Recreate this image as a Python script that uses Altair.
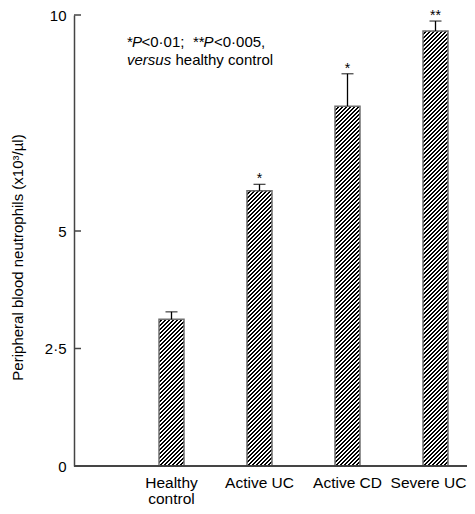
import altair as alt
import pandas as pd
import numpy as np

# ---- data ----
categories = ["Healthy control", "Active UC", "Active CD", "Severe UC"]
means = [3.12, 5.93, 7.89, 9.63]
upper = [3.28, 6.08, 8.64, 9.86]
stars = ["", "*", "*", "**"]
y_ticks = [0, 2.5, 5, 10]

df = pd.DataFrame({"group": categories, "mean": means, "upper": upper, "star": stars})
tick_df = pd.DataFrame({"v": y_ticks})

# ---- layout / styles ----
W, H = 393, 451
Y_DOMAIN = [0, 5, 10]
Y_RANGE = [H, 216, 0]
FONT = "Liberation Sans"
AXIS_COLOR = "#444444"
BAR_W = 25.0
X_RANGE = [53.5, 405.5]
STEP = (X_RANGE[1] - X_RANGE[0]) / len(categories)

yscale = alt.Scale(domain=Y_DOMAIN, range=Y_RANGE, nice=False, zero=False)
xscale = alt.Scale(domain=categories, range=X_RANGE, paddingInner=0, paddingOuter=0)

yaxis = alt.Axis(values=y_ticks, ticks=False, grid=False,
                 labelExpr="replace(toString(datum.value), '.', '·')",
                 labelFontSize=15, labelColor="black", labelPadding=8,
                 domainColor=AXIS_COLOR, domainWidth=1.5,
                 titleFontSize=15, titleFontWeight="normal", titleColor="black",
                 titleAngle=-90, titleX=-57, titleY=242, titleAlign="center",
                 titleBaseline="middle")
xaxis = alt.Axis(ticks=False, domain=False, grid=False, labelAngle=0,
                 labelFontSize=15.5, labelColor="black", labelPadding=9,
                 labelLineHeight=16, labelBaseline="top", labelOverlap=False,
                 labelOffset={"condition": {"test": "datum.value == 'Severe UC'", "value": -7}, "value": 0},
                 labelExpr="datum.value == 'Healthy control' ? ['Healthy', 'control'] : datum.label")

YTITLE = "Peripheral blood neutrophils (x10³/µl)"
X = alt.X("group:N", scale=xscale, sort=categories, axis=xaxis, title=None)


def Y(field):
    return alt.Y(field, scale=yscale, axis=yaxis, title=YTITLE)


def ypix(v):
    return float(np.interp(v, Y_DOMAIN, Y_RANGE))


def yval(p):
    return float(np.interp(p, Y_RANGE[::-1], Y_DOMAIN[::-1]))


def hatch(h_px, x_left, y_top, w_px=BAR_W, period=4.0, frac=0.5):
    """Diagonal '/' hatching as a hard-stop linear gradient (stripes x+y=const)."""
    L = w_px + h_px
    k = L / (w_px ** 2 + h_px ** 2)
    phi = (x_left + y_top + 0.5) % period
    stops = []

    def add(u, c):
        stops.append((min(max(u / L, 0.0), 1.0), c))

    kk = -1
    while True:
        s = kk * period - phi
        if s > L:
            break
        e = s + frac * period
        n = s + period
        if e > 0 and s < L:
            add(s, "#000000"); add(e, "#000000")
        if n > 0 and e < L:
            add(e, "#ffffff"); add(n, "#ffffff")
        kk += 1
    return alt.Gradient(gradient="linear",
                        stops=[alt.GradientStop(offset=float(o), color=c) for o, c in stops],
                        x1=0, y1=0, x2=float(w_px * k), y2=float(h_px * k))


SEG = 60  # draw each hatched bar in short pieces so the gradient stays crisp
fill_layers = []
for i, (cat, m) in enumerate(zip(categories, means)):
    x_left = X_RANGE[0] + STEP * (i + 0.5) - BAR_W / 2
    top = ypix(m)
    b = float(H)
    while b > top + 1e-6:
        nb = max(b - SEG, top)
        lo_v = yval(b)
        hi_v = m if nb == top else yval(nb)
        seg_df = pd.DataFrame({"group": [cat], "lo": [lo_v], "hi": [hi_v]})
        fill_layers.append(
            alt.Chart(seg_df)
            .mark_bar(width=BAR_W, fill=hatch(b - nb, x_left, nb), strokeWidth=0)
            .encode(x=X, y=Y("lo:Q"), y2="hi:Q")
        )
        b = nb

outline = alt.Chart(df).mark_bar(width=BAR_W, fill="transparent", stroke="#707070", strokeWidth=1.5).encode(
    x=X, y=Y("mean:Q"))
err = alt.Chart(df).mark_rule(color="black", strokeWidth=1.3).encode(
    x=X, y=Y("mean:Q"), y2="upper:Q")
caps = alt.Chart(df).mark_tick(color="black", thickness=1.3, size=12, orient="horizontal").encode(
    x=X, y=Y("upper:Q"))
star_txt = alt.Chart(df).mark_text(fontSize=14, baseline="alphabetic", dy=-1, color="black").encode(
    x=X, y=Y("upper:Q"), text="star:N")

yticks = alt.Chart(tick_df).mark_rule(color=AXIS_COLOR, strokeWidth=1.5).encode(
    y=Y("v:Q"), x=alt.value(0), x2=alt.value(7))
baseline = alt.Chart(tick_df).mark_rule(color=AXIS_COLOR, strokeWidth=1.5).encode(
    y=alt.value(H), x=alt.value(0), x2=alt.value(W))

# annotation text segments (mixed roman / italic)
segments = [
    ("*", False, 53, 32),
    ("P", True, 58, 32),
    ("<0·01;", False, 67.5, 32),
    ("**", False, 119, 32),
    ("P", True, 129.5, 32),
    ("<0·005,", False, 140, 32),
    ("versus", True, 53, 50),
    ("healthy control", False, 101.5, 50),
]
text_layers = []
for txt, ital, px, py in segments:
    text_layers.append(
        alt.Chart(pd.DataFrame({"t": [txt]}))
        .mark_text(fontSize=15, align="left", baseline="alphabetic", color="black",
                   fontStyle="italic" if ital else "normal")
        .encode(text="t:N", x=alt.value(px), y=alt.value(py))
    )

chart = alt.layer(*fill_layers, outline, err, caps, star_txt, yticks, baseline, *text_layers).properties(
    width=W, height=H,
    autosize=alt.AutoSizeParams(type="none"),
    padding={"left": 66, "top": 7, "right": 0, "bottom": 40},
    background="white",
).configure(font=FONT).configure_view(stroke=None)

chart.save("out.html", embed_options={"renderer": "svg", "actions": False})
